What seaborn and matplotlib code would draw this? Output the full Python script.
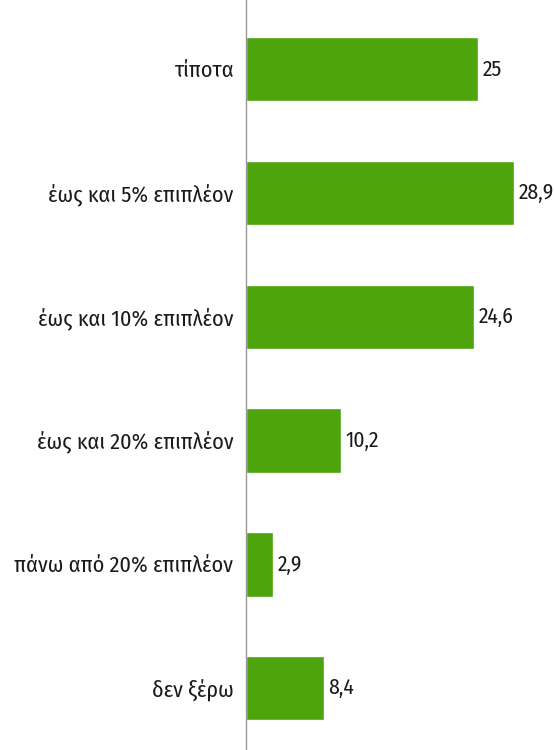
import seaborn as sns
import matplotlib.pyplot as plt
import pandas as pd

categories = ['τίποτα', 'έως και 5% επιπλέον', 'έως και 10% επιπλέον',
              'έως και 20% επιπλέον', 'πάνω από 20% επιπλέον', 'δεν ξέρω']
values = [25, 28.9, 24.6, 10.2, 2.9, 8.4]
value_labels = ['25', '28,9', '24,6', '10,2', '2,9', '8,4']

df = pd.DataFrame({'cat': categories, 'val': values})

sns.set_theme(style="white")
plt.rcParams['font.family'] = ['Fira Sans Condensed', 'DejaVu Sans']

fig = plt.figure(figsize=(5.54, 7.5), dpi=100)
ax = fig.add_axes([246 / 554, 0, 1 - 246 / 554, 1])
sns.barplot(data=df, x='val', y='cat', orient='h', color='#4ea40c',
            saturation=1, width=0.52, ax=ax)

# value labels to the right of each bar
for i, (v, lab) in enumerate(zip(values, value_labels)):
    ax.text(v + 0.5, i, lab, va='center', ha='left', fontsize=15.5, color='#1a1a1a')

ax.set_xlim(0, 33.2)
ax.set_ylim(5.5, -0.56)
ax.set_xlabel('')
ax.set_ylabel('')
ax.set_xticks([])
ax.tick_params(axis='y', length=0, pad=9, labelsize=16, labelcolor='#1a1a1a')
for s in ['top', 'right', 'bottom']:
    ax.spines[s].set_visible(False)
ax.spines['left'].set_color('#999999')
ax.spines['left'].set_linewidth(1)

plt.savefig('out.png', dpi=100)
